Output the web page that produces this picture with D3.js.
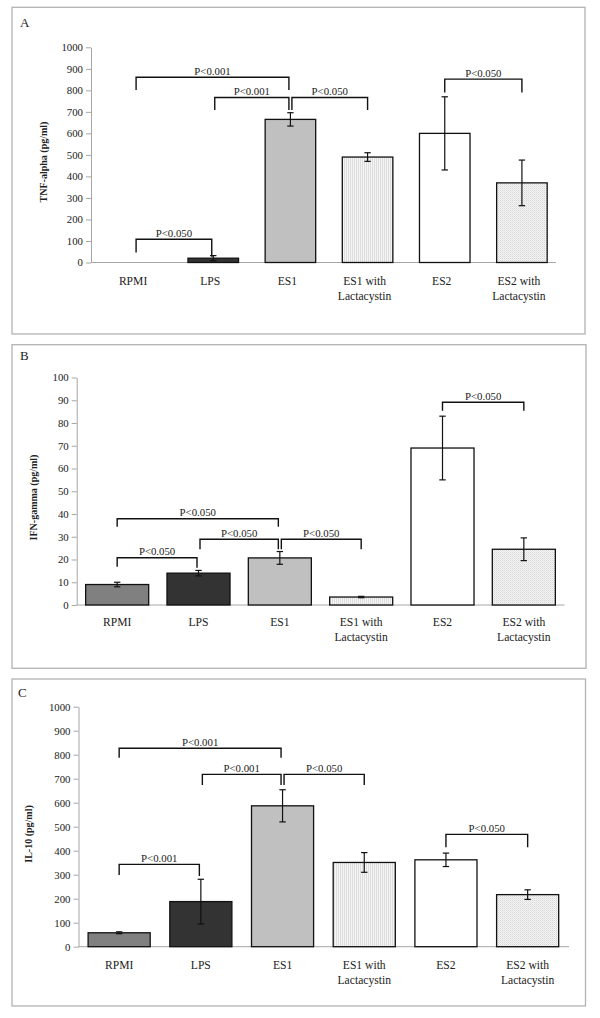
<!DOCTYPE html>
<html><head><meta charset="utf-8">
<script src="https://cdn.jsdelivr.net/npm/d3@7"></script>
<style>
body{margin:0;background:#fff}
svg{display:block}
svg text{font-family:"Liberation Serif","Times New Roman",Times,serif;fill:#222}
</style>
</head><body>
<svg id="c" width="600" height="1018" font-family="Liberation Serif"></svg>
<script>
// ---------- DATA ----------
const categories = ["RPMI", "LPS", "ES1", "ES1 with Lactacystin", "ES2", "ES2 with Lactacystin"];

// Panel A: TNF-alpha (pg/ml)
const tnfValues = [0, 20, 665, 490, 600, 370];
const tnfErrors = [0, 12, 31, 20, 170, 106];
const tnfBracketPairs = [[0, 2], [1, 2], [2, 3], [4, 5], [0, 1]];
const tnfBracketLevels = [861, 767, 767, 852, 108];
const tnfBracketLegEnds = [[802, 802], [709, 709], [709, 709], [790, 790], [47, 27]];
const tnfBracketLabels = ["P<0.001", "P<0.001", "P<0.050", "P<0.050", "P<0.050"];

// Panel B: IFN-gamma (pg/ml)
const ifnValues = [9, 14, 20.7, 3.5, 69, 24.5];
const ifnErrors = [1, 1.2, 2.8, 0.3, 14, 5];
const ifnBracketPairs = [[0, 1], [0, 2], [1, 2], [2, 3], [4, 5]];
const ifnBracketLevels = [20.8, 37.9, 28.9, 28.9, 89.1];
const ifnBracketLegEnds = [[16.8, 16.4], [34.4, 34.4], [24.5, 24.5], [24.5, 24.5], [85.4, 85.4]];
const ifnBracketLabels = ["P<0.050", "P<0.050", "P<0.050", "P<0.050", "P<0.050"];

// Panel C: IL-10 (pg/ml)
const il10Values = [58, 188, 587, 351, 362, 217];
const il10Errors = [4, 93, 67, 41, 28, 20];
const il10BracketPairs = [[0, 2], [1, 2], [2, 3], [4, 5], [0, 1]];
const il10BracketLevels = [827, 718, 718, 468, 343];
const il10BracketLegEnds = [[787, 787], [674, 674], [674, 674], [414, 414], [299, 295]];
const il10BracketLabels = ["P<0.001", "P<0.001", "P<0.050", "P<0.050", "P<0.001"];

const yTicksA = [0, 100, 200, 300, 400, 500, 600, 700, 800, 900, 1000];
const yTicksB = [0, 10, 20, 30, 40, 50, 60, 70, 80, 90, 100];
const yTicksC = [0, 100, 200, 300, 400, 500, 600, 700, 800, 900, 1000];

// ---------- STYLE ----------
const barFills = ["#808080", "#333333", "#c0c0c0", "url(#patV)", "#ffffff", "url(#patD)"];
const SERIF = "Liberation Serif, Times New Roman, serif";

const svg = d3.select("#c");
const defs = svg.append("defs");
const pv = defs.append("pattern").attr("id", "patV").attr("width", 2).attr("height", 2).attr("patternUnits", "userSpaceOnUse");
pv.append("rect").attr("width", 2).attr("height", 2).attr("fill", "#f5f5f5");
pv.append("rect").attr("width", 1).attr("height", 2).attr("fill", "#dddddd");
const pd = defs.append("pattern").attr("id", "patD").attr("width", 2).attr("height", 2).attr("patternUnits", "userSpaceOnUse");
pd.append("rect").attr("width", 2).attr("height", 2).attr("fill", "#f4f4f4");
pd.append("rect").attr("width", 1).attr("height", 1).attr("fill", "#d6d6d6");
pd.append("rect").attr("x", 1).attr("y", 1).attr("width", 1).attr("height", 1).attr("fill", "#e6e6e6");

function txt(sel) { return sel.append("text").attr("font-family", SERIF).attr("fill", "#222"); }

function drawPanel(cfg, values, errors, ticks, pairs, levels, legEnds, labels) {
  const g = svg.append("g");
  const f = cfg.frame;
  g.append("rect").attr("x", f[0]).attr("y", f[1]).attr("width", f[2] - f[0]).attr("height", f[3] - f[1])
    .attr("fill", "none").attr("stroke", "#b3b3b3").attr("stroke-width", 1.3);
  txt(g).attr("x", cfg.letterPos[0]).attr("y", cfg.letterPos[1]).attr("font-size", 13).text(cfg.letter);

  const x = d3.scaleBand().domain(categories).range(cfg.band).paddingInner(cfg.pad).paddingOuter(cfg.pad / 2);
  const y = d3.scaleLinear().domain([0, ticks[ticks.length - 1]]).range([cfg.y0, cfg.yTop]);
  const bw = x.bandwidth();
  const cx = c => x(c) + bw / 2;

  // y axis
  const ya = g.append("g").attr("transform", `translate(${cfg.axisX},0)`)
    .call(d3.axisLeft(y).tickValues(ticks).tickFormat(d3.format("d")).tickSize(5).tickPadding(3).tickSizeOuter(0));
  ya.attr("font-family", SERIF).attr("font-size", 10.8);
  ya.select(".domain").attr("stroke", "#a6a6a6");
  ya.selectAll(".tick line").attr("stroke", "#a6a6a6");
  ya.selectAll(".tick text").attr("fill", "#222").attr("font-family", SERIF);

  // x baseline
  g.append("line").attr("x1", cfg.axisX).attr("x2", cfg.axisEnd).attr("y1", y(0)).attr("y2", y(0))
    .attr("stroke", "#a6a6a6").attr("stroke-width", 1);

  // y title
  txt(g).attr("transform", `translate(${cfg.titlePos[0]},${cfg.titlePos[1]}) rotate(-90)`)
    .attr("text-anchor", "middle").attr("font-size", 10).attr("font-weight", "bold").text(cfg.title);

  // bars
  g.selectAll("rect.bar").data(categories.map((c, i) => ({c, v: values[i], i})).filter(d => d.v > 0))
    .enter().append("rect").attr("class", "bar")
    .attr("x", d => x(d.c)).attr("width", bw)
    .attr("y", d => y(d.v)).attr("height", d => y(0) - y(d.v))
    .attr("fill", d => barFills[d.i]).attr("stroke", "#111").attr("stroke-width", 1.3);

  // error bars
  const eb = g.selectAll("g.err").data(categories.map((c, i) => ({c, v: values[i], e: errors[i]})).filter(d => d.e > 0))
    .enter().append("g").attr("class", "err").attr("stroke", "#111").attr("stroke-width", 1.2);
  eb.append("line").attr("x1", d => cx(d.c)).attr("x2", d => cx(d.c)).attr("y1", d => y(d.v - d.e)).attr("y2", d => y(d.v + d.e));
  eb.append("line").attr("x1", d => cx(d.c) - 3.2).attr("x2", d => cx(d.c) + 3.2).attr("y1", d => y(d.v - d.e)).attr("y2", d => y(d.v - d.e));
  eb.append("line").attr("x1", d => cx(d.c) - 3.2).attr("x2", d => cx(d.c) + 3.2).attr("y1", d => y(d.v + d.e)).attr("y2", d => y(d.v + d.e));

  // brackets
  pairs.forEach((p, k) => {
    const startsHere = pairs.some((q, j) => j !== k && q[1] === p[0]);
    const endsHere = pairs.some((q, j) => j !== k && q[0] === p[1]);
    const xl = cx(categories[p[0]]) + (startsHere ? 1.5 : 0);
    const xr = cx(categories[p[1]]) - (endsHere ? 1.5 : 0);
    const yl = y(levels[k]);
    g.append("path")
      .attr("d", `M${xl},${y(legEnds[k][0])}V${yl}H${xr}V${y(legEnds[k][1])}`)
      .attr("fill", "none").attr("stroke", "#111").attr("stroke-width", 1.4);
    txt(g).attr("x", (xl + xr) / 2).attr("y", yl - 2.5).attr("text-anchor", "middle")
      .attr("font-size", 10.8).text(labels[k]);
  });

  // category labels
  categories.forEach(c => {
    const lines = c.includes(" with ") ? [c.split(" with ")[0] + " with", c.split(" with ")[1]] : [c];
    const t = txt(g).attr("text-anchor", "middle").attr("font-size", 11.6);
    lines.forEach((ln, li) => {
      t.append("tspan").attr("x", cx(c) + cfg.labelDx).attr("y", cfg.labelY + li * 15).text(ln);
    });
  });
}

drawPanel({frame: [12, 7.3, 585, 334], letter: "A", letterPos: [20, 27], axisX: 91, axisEnd: 556,
  band: [97.5, 560.5], pad: 0.345, y0: 262.5, yTop: 47.3, title: "TNF-alpha (pg/ml)", titlePos: [46.5, 162],
  labelY: 284.5, labelDx: -3},
  tnfValues, tnfErrors, yTicksA, tnfBracketPairs, tnfBracketLevels, tnfBracketLegEnds, tnfBracketLabels);

drawPanel({frame: [12, 344.7, 586, 668.3], letter: "B", letterPos: [20, 360], axisX: 76.7, axisEnd: 564.5,
  band: [76.5, 564.5], pad: 0.225, y0: 605, yTop: 377.5, title: "IFN-gamma (pg/ml)", titlePos: [37, 497.5],
  labelY: 626, labelDx: 0},
  ifnValues, ifnErrors, yTicksB, ifnBracketPairs, ifnBracketLevels, ifnBracketLegEnds, ifnBracketLabels);

drawPanel({frame: [12, 679, 585.5, 1006], letter: "C", letterPos: [18, 697], axisX: 78.5, axisEnd: 569,
  band: [78.3, 568.5], pad: 0.24, y0: 946.7, yTop: 706.7, title: "IL-10 (pg/ml)", titlePos: [32, 834],
  labelY: 969, labelDx: 0},
  il10Values, il10Errors, yTicksC, il10BracketPairs, il10BracketLevels, il10BracketLegEnds, il10BracketLabels);
</script>
</body></html>
